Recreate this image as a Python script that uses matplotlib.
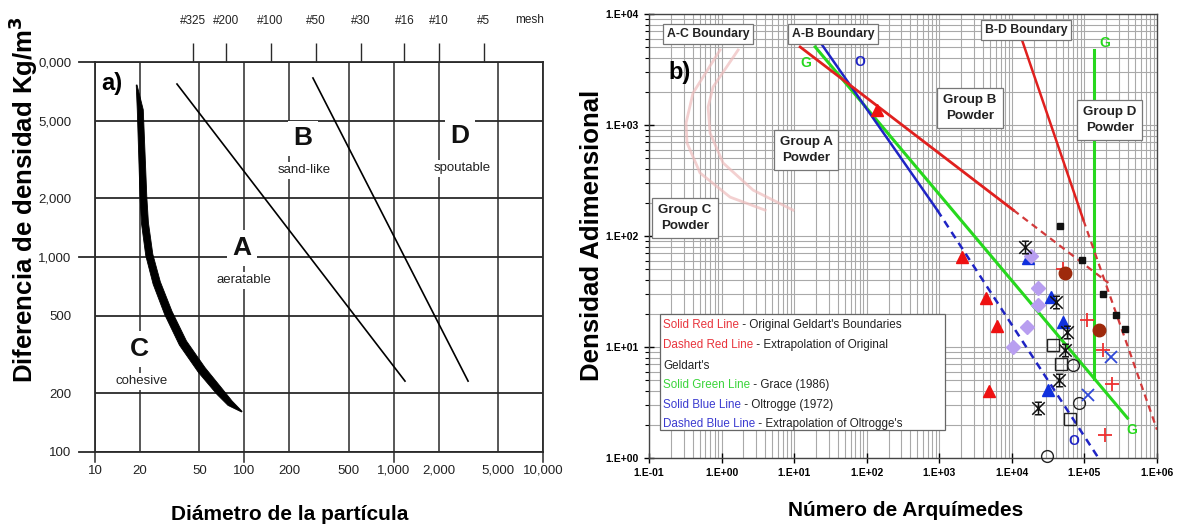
import numpy as np
import matplotlib
matplotlib.use("Agg")
import matplotlib.pyplot as plt
import matplotlib.ticker as mticker
from matplotlib.path import Path
from matplotlib.patches import Rectangle
from matplotlib import font_manager

# ---------------- panel a) : density difference vs particle diameter ----------------
diam_ticks = [10, 20, 50, 100, 200, 500, 1000, 2000, 5000, 10000]
diam_labels = ["10", "20", "50", "100", "200", "500", "1,000", "2,000", "5,000", "10,000"]
diam_major = [10, 100, 1000, 10000]
dens_ticks = [100, 200, 500, 1000, 2000, 5000, 10000]
dens_labels = ["100", "200", "500", "1,000", "2,000", "5,000", "0,000"]
dens_major = [100, 1000, 10000]
mesh_sizes = [45, 75, 150, 300, 600, 1180, 2000, 4000]
mesh_labels = ["#325", "#200", "#100", "#50", "#30", "#16", "#10", "#5"]

# C-A boundary (thick band), A-B and B-D boundaries
ca_diam = [19.0, 20.1, 21.1, 21.6, 23.1, 25.9, 31.0, 38.8, 51.9, 68.7, 80.2, 96.2]
ca_dens = [7620, 5675, 2030, 1493, 1024, 736, 516, 362, 263, 203, 178, 161]
ab_diam = [35.4, 1191]
ab_dens = [7710, 231]
bd_diam = [288, 3150]
bd_dens = [8280, 231]

# ---------------- panel b) : dimensionless density vs Archimedes number ----------------
ar_ticks = [1e-1, 1e0, 1e1, 1e2, 1e3, 1e4, 1e5, 1e6]
ar_labels = ["1.E-01", "1.E+00", "1.E+01", "1.E+02", "1.E+03", "1.E+04", "1.E+05", "1.E+06"]
rho_ticks = [1e0, 1e1, 1e2, 1e3, 1e4]
rho_labels = ["1.E+00", "1.E+01", "1.E+02", "1.E+03", "1.E+04"]

geldart_ab_ar = [12.1, 1.05e4]
geldart_ab_rho = [5050, 171]
geldart_ab_ext_ar = [1.05e4, 2.14e5]
geldart_ab_ext_rho = [171, 37.8]
geldart_bd_ar = [1.35e4, 9.68e4]
geldart_bd_rho = [6080, 139]
geldart_bd_ext_ar = [9.68e4, 1.0e6]
geldart_bd_ext_rho = [139, 1.8]
grace_ab_ar = [19.5, 3.92e5]
grace_ab_rho = [5050, 2.29]
grace_bd_ar = [1.37e5, 1.37e5]
grace_bd_rho = [4740, 5.2]
oltrogge_ar = [24.3, 938]
oltrogge_rho = [5260, 171]
oltrogge_ext_ar = [938, 1.56e5]
oltrogge_ext_rho = [171, 1.0]

ac_inner_ar = [0.953, 0.404, 0.324, 0.334, 0.505, 1.31, 3.98]
ac_inner_rho = [4740, 1941, 1042, 689, 370, 224, 171]
ac_outer_ar = [1.69, 0.763, 0.652, 0.694, 1.05, 2.72, 9.68]
ac_outer_rho = [4740, 2198, 1452, 847, 455, 259, 171]

star_ar = [1.53e4, 4.11e4, 5.83e4, 5.47e4, 4.52e4, 2.32e4]
star_rho = [79.6, 25.4, 13.6, 9.4, 5.0, 2.8]
diamond_ar = [1.86e4, 2.32e4, 2.32e4, 1.64e4, 1.05e4]
diamond_rho = [66, 34, 23.9, 15.1, 10]
red_tri_ar = [140, 2.07e3, 4.45e3, 6.31e3, 4.9e3]
red_tri_rho = [1365, 64.7, 27.6, 15.5, 4.0]
blue_tri_ar = [1.69e4, 3.51e4, 5.13e4, 3.18e4]
blue_tri_rho = [63.4, 28, 16.8, 4.1]
open_sq_ar = [3.73e4, 4.82e4, 6.41e4]
open_sq_rho = [10.4, 7.0, 2.24]
open_circ_ar = [7.05e4, 8.53e4, 3.09e4]
open_circ_rho = [6.9, 3.1, 1.04]
blue_x_ar = [2.29e5, 1.13e5]
blue_x_rho = [8.1, 3.7]
red_plus_ar = [5.13e4, 1.1e5, 1.83e5, 2.43e5, 1.95e5]
red_plus_rho = [50.5, 17.5, 9.4, 4.6, 1.6]
brown_ar = [5.47e4, 1.61e5]
brown_rho = [46.4, 14.2]
black_sq_ar = [4.67e4, 9.38e4, 1.83e5, 2.76e5, 3.68e5]
black_sq_rho = [123, 60.8, 30, 19.4, 14.5]

# ---------------- fonts ----------------
available = {f.name for f in font_manager.fontManager.ttflist}
NARROW = ["Liberation Sans Narrow", "Liberation Sans"] if "Liberation Sans Narrow" in available else ["Liberation Sans"]
SANS = ["Liberation Sans", "DejaVu Sans"]
plt.rcParams["font.family"] = SANS

fig = plt.figure(figsize=(11.8, 5.31), dpi=100)
W, H = 1180, 531


def box(l, t, r, b):
    return [l / W, 1 - b / H, (r - l) / W, (b - t) / H]


# =============================== panel a ===============================
ax = fig.add_axes(box(95, 62, 543, 452))
ax.set_xscale("log")
ax.set_yscale("log")
ax.set_xlim(10, 10000)
ax.set_ylim(100, 10000)
gcol = "#2a2a2a"
for v in diam_ticks:
    ax.axvline(v, color=gcol, lw=1.1, zorder=1)
for v in dens_ticks:
    ax.axhline(v, color=gcol, lw=1.3, zorder=1)
for v in diam_major:
    ax.axvline(v, ymin=-0.026, ymax=0, color=gcol, lw=1.1, clip_on=False)
for v in dens_major:
    ax.axhline(v, xmin=-0.035, xmax=0, color=gcol, lw=1.3, clip_on=False)
for s in ax.spines.values():
    s.set_color(gcol)
    s.set_linewidth(1.3)

ax.xaxis.set_major_locator(mticker.FixedLocator(diam_ticks))
ax.xaxis.set_major_formatter(mticker.FixedFormatter(diam_labels))
ax.xaxis.set_minor_locator(mticker.NullLocator())
ax.yaxis.set_major_locator(mticker.FixedLocator(dens_ticks))
ax.yaxis.set_major_formatter(mticker.FixedFormatter(dens_labels))
ax.yaxis.set_minor_locator(mticker.NullLocator())
ax.tick_params(axis="x", length=0, pad=9, labelsize=9.5, labelcolor="#222")
ax.tick_params(axis="y", length=0, pad=17, labelsize=9.5, labelcolor="#222")
for lab in ax.get_xticklabels() + ax.get_yticklabels():
    lab.set_family(NARROW)

sec = ax.secondary_xaxis("top")
sec.xaxis.set_major_locator(mticker.FixedLocator(mesh_sizes))
sec.xaxis.set_major_formatter(mticker.FixedFormatter(mesh_labels))
sec.xaxis.set_minor_locator(mticker.NullLocator())
sec.tick_params(length=13.5, width=1.0, color=gcol, pad=12, labelsize=8.5, labelcolor="#222")
sec.spines["top"].set_visible(False)
for lab in sec.get_xticklabels():
    lab.set_family(NARROW)
ax.text(0.971, 1.108, "mesh", transform=ax.transAxes, ha="center", va="center",
        fontsize=8.5, color="#222", family=NARROW)

# boundary lines
ax.plot(ab_diam, ab_dens, color="k", lw=1.2, zorder=3)
ax.plot(bd_diam, bd_dens, color="k", lw=1.2, zorder=3)

# thick C-A band built as a tapered polygon around its centre line
fig.canvas.draw()
pts = ax.transData.transform(np.column_stack([ca_diam, ca_dens]))
tang = np.gradient(pts, axis=0)
norm = np.column_stack([-tang[:, 1], tang[:, 0]])
norm /= np.linalg.norm(norm, axis=1)[:, None]
half = np.array([0.4, 3.0, 3.4, 3.5, 3.6, 3.8, 4.0, 4.1, 4.1, 3.8, 3.0, 0.4])
poly = np.vstack([pts + norm * half[:, None], (pts - norm * half[:, None])[::-1]])
poly = ax.transData.inverted().transform(poly)
ax.fill(poly[:, 0], poly[:, 1], color="k", lw=0.6, joinstyle="round", zorder=4)

wbg = dict(facecolor="white", edgecolor="none", pad=1.5)
ax.text(0.038, 0.946, "a)", transform=ax.transAxes, ha="center", va="center",
        fontsize=17, fontweight="bold", zorder=6)
for x, y, big, small in [(0.464, 0.805, "B", "sand-like"), (0.815, 0.810, "D", "spoutable"),
                         (0.328, 0.523, "A", "aeratable"), (0.100, 0.264, "C", "cohesive")]:
    ax.text(x, y, big, transform=ax.transAxes, ha="center", va="center", fontsize=19,
            fontweight="bold", color="#111", bbox=dict(facecolor="white", edgecolor="none", pad=4), zorder=5)
    ax.text(x + 0.004, y - 0.083, small, transform=ax.transAxes, ha="center", va="center",
            fontsize=9.5, color="#222", family=NARROW, bbox=wbg, zorder=5)

fig.text(23 / W, 1 - 200 / H, "Diferencia de densidad Kg/m$^\\mathbf{3}$", rotation=90,
         ha="center", va="center", fontsize=18.5, fontweight="bold")
fig.text(290 / W, 1 - 515 / H, "Diámetro de la partícula", ha="center", va="center",
         fontsize=15, fontweight="bold")

# =============================== panel b ===============================
bx = fig.add_axes(box(649, 14, 1157, 458))
bx.set_xscale("log")
bx.set_yscale("log")
bx.set_xlim(1e-1, 1e6)
bx.set_ylim(1, 1e4)
bx.xaxis.set_major_locator(mticker.FixedLocator(ar_ticks))
bx.xaxis.set_major_formatter(mticker.FixedFormatter(ar_labels))
bx.yaxis.set_major_locator(mticker.FixedLocator(rho_ticks))
bx.yaxis.set_major_formatter(mticker.FixedFormatter(rho_labels))
bx.xaxis.set_minor_locator(mticker.LogLocator(base=10, subs=np.arange(2, 10)))
bx.yaxis.set_minor_locator(mticker.LogLocator(base=10, subs=np.arange(2, 10)))
bx.xaxis.set_minor_formatter(mticker.NullFormatter())
bx.yaxis.set_minor_formatter(mticker.NullFormatter())
bx.grid(True, which="both", color="#a9a9a9", lw=0.8)
bx.set_axisbelow(True)
bx.tick_params(which="major", direction="inout", length=7, width=1, labelsize=7.5, pad=4)
bx.tick_params(axis="x", which="minor", length=0)
bx.tick_params(axis="y", which="minor", direction="out", length=3, width=0.8)
for lab in bx.get_xticklabels() + bx.get_yticklabels():
    lab.set_fontweight("bold")
for s in bx.spines.values():
    s.set_color("#444")
    s.set_linewidth(1.0)

# A-C boundary (faint)
bx.plot(ac_inner_ar, ac_inner_rho, color="#eebcbc", lw=2.0, alpha=0.7, zorder=2)
bx.plot(ac_outer_ar, ac_outer_rho, color="#eebcbc", lw=2.0, alpha=0.7, zorder=2)

red, green, blue = "#e0201e", "#27d81e", "#1f24c4"
bx.plot(geldart_ab_ar, geldart_ab_rho, color=red, lw=2.0, zorder=4)
bx.plot(geldart_ab_ext_ar, geldart_ab_ext_rho, color="#d2393a", lw=1.6, ls=(0, (3, 2.2)), zorder=4)
bx.plot(geldart_bd_ar, geldart_bd_rho, color=red, lw=1.8, zorder=4)
bx.plot(geldart_bd_ext_ar, geldart_bd_ext_rho, color="#d2393a", lw=1.6, ls=(0, (3, 2.2)), zorder=4)
bx.plot(grace_ab_ar, grace_ab_rho, color=green, lw=2.2, zorder=3)
bx.plot(grace_bd_ar, grace_bd_rho, color=green, lw=2.2, zorder=3)
bx.plot(oltrogge_ar, oltrogge_rho, color=blue, lw=1.8, zorder=3)
bx.plot(oltrogge_ext_ar, oltrogge_ext_rho, color=blue, lw=1.8, ls=(0, (3, 2.2)), zorder=3)

# data points
star = Path([(-1, -1), (1, 1), (-1, 1), (1, -1), (0, -1), (0, 1),
             (-0.55, 1), (0.55, 1), (-0.55, -1), (0.55, -1)],
            [Path.MOVETO, Path.LINETO] * 5)
bx.plot(red_tri_ar, red_tri_rho, ls="none", marker="^", ms=9, color="#ee1111", zorder=5)
bx.plot(blue_tri_ar, blue_tri_rho, ls="none", marker="^", ms=9, color="#1030dd", zorder=5)
bx.plot(diamond_ar, diamond_rho, ls="none", marker="D", ms=7, color="#b89ef0", zorder=6)
bx.plot(star_ar, star_rho, ls="none", marker=star, ms=9, mew=1.1, color="#111", zorder=7)
bx.plot(open_sq_ar, open_sq_rho, ls="none", marker="s", ms=9, mfc="none", mec="#222", mew=1.0, zorder=6)
bx.plot(open_circ_ar, open_circ_rho, ls="none", marker="o", ms=8.5, mfc="none", mec="#222", mew=1.0,
        zorder=6, clip_on=False)
bx.plot(blue_x_ar, blue_x_rho, ls="none", marker="x", ms=9, mew=1.3, color="#3048d8", zorder=6)
bx.plot(red_plus_ar, red_plus_rho, ls="none", marker="+", ms=10, mew=1.3, color="#ee3030", zorder=6)
bx.plot(brown_ar, brown_rho, ls="none", marker="o", ms=9, color="#9e2a0c", zorder=6)
bx.plot(black_sq_ar, black_sq_rho, ls="none", marker="s", ms=4.5, color="#111", zorder=6)

# line tags
bx.text(14.7, 3620, "G", color=green, fontsize=10, fontweight="bold", ha="center", va="center", zorder=8)
bx.text(81, 3700, "O", color=blue, fontsize=10, fontweight="bold", ha="center", va="center", zorder=8)
bx.text(1.89e5, 5480, "G", color=green, fontsize=10, fontweight="bold", ha="center", va="center", zorder=8)
bx.text(4.45e5, 1.79, "G", color=green, fontsize=10, fontweight="bold", ha="center", va="center", zorder=8)
bx.text(7.05e4, 1.42, "O", color=blue, fontsize=10, fontweight="bold", ha="center", va="center", zorder=8)

edge = dict(facecolor="white", edgecolor="#777", lw=0.9)
for x, y, s in [(0.116, 0.955, "A-C Boundary"), (0.362, 0.955, "A-B Boundary"),
                (0.742, 0.964, "B-D Boundary")]:
    bx.text(x, y, s, transform=bx.transAxes, ha="center", va="center", fontsize=8.8,
            fontweight="bold", color="#222", bbox=dict(boxstyle="square,pad=0.3", **edge), zorder=9)
for x, y, s in [(0.309, 0.694, "Group A\nPowder"), (0.632, 0.788, "Group B\nPowder"),
                (0.071, 0.541, "Group C\nPowder"), (0.907, 0.761, "Group D\nPowder")]:
    bx.text(x, y, s, transform=bx.transAxes, ha="center", va="center", fontsize=9.6,
            fontweight="bold", color="#222", linespacing=1.5,
            bbox=dict(boxstyle="square,pad=0.45", **edge), zorder=9)
bx.text(0.061, 0.869, "b)", transform=bx.transAxes, ha="center", va="center",
        fontsize=17, fontweight="bold", zorder=9)

# key
bx.add_patch(Rectangle((0.0217, 0.063), 0.5613, 0.261, transform=bx.transAxes,
                       facecolor="white", edgecolor="#666", lw=0.9, zorder=9))
key_rows = [(0.2995, "Solid Red Line", "#e8343c", " - Original Geldart's Boundaries"),
            (0.2545, "Dashed Red Line", "#e8343c", " - Extrapolation of Original"),
            (0.207, "", "#222", "Geldart's"),
            (0.1644, "Solid Green Line", "#3ad43a", " - Grace (1986)"),
            (0.1194, "Solid Blue Line", "#3a3ad0", " - Oltrogge (1972)"),
            (0.0766, "Dashed Blue Line", "#3a3ad0", " - Extrapolation of Oltrogge's")]
for y, head, col, tail in key_rows:
    t = bx.text(0.0276, y, head, transform=bx.transAxes, ha="left", va="center",
                fontsize=8.4, color=col, zorder=10)
    bx.annotate(tail, xy=(1, 0.5), xycoords=t, ha="left", va="center",
                fontsize=8.4, color="#222", zorder=10)

fig.text(592 / W, 1 - 235 / H, "Densidad Adimensional", rotation=90, ha="center", va="center",
         fontsize=18.5, fontweight="bold")
fig.text(906 / W, 1 - 510 / H, "Número de Arquímedes", ha="center", va="center",
         fontsize=15, fontweight="bold")

fig.savefig("out.png", dpi=100)
